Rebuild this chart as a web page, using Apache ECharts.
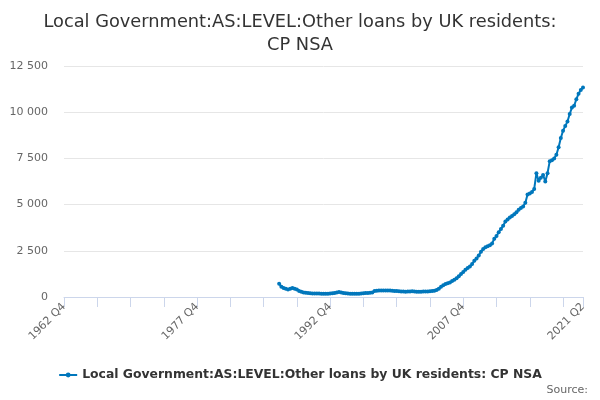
<!DOCTYPE html>
<html>
<head>
<meta charset="utf-8">
<script src="https://cdn.jsdelivr.net/npm/echarts@6/dist/echarts.min.js"></script>
<style>
html,body{margin:0;padding:0;background:#fff;}
#chart{width:600px;height:400px;}
</style>
</head>
<body>
<div id="chart"></div>
<script>
const titleText = "Local Government:AS:LEVEL:Other loans by UK residents:\nCP NSA";
const seriesName = "Local Government:AS:LEVEL:Other loans by UK residents: CP NSA";
const startYear = 1962, startQuarter = 4, quarterCount = 235;
const firstDataIndex = 97; // 1987 Q1
const yTicks = [0, 2500, 5000, 7500, 10000, 12500];
// values from 1987 Q1 to 2021 Q2
const values = [
  720, 560, 490, 440, 410, 450, 487, 450, 411, 330,
  290, 250, 233, 215, 205, 195, 190, 185, 185, 180,
  180, 178, 182, 190, 200, 215, 240, 265, 245, 220,
  200, 195, 180, 175, 172, 175, 180, 190, 200, 210,
  220, 235, 250, 325, 340, 345, 345, 350, 355, 350,
  345, 340, 330, 320, 305, 300, 295, 290, 292, 300,
  305, 300, 290, 285, 290, 295, 295, 300, 310, 320,
  340, 380, 450, 560, 640, 700, 750, 790, 860, 940,
  1010, 1120, 1240, 1350, 1480, 1570, 1650, 1780, 1960, 2080,
  2250, 2450, 2600, 2690, 2740, 2800, 2900, 3150, 3300, 3500,
  3680, 3860, 4080, 4200, 4300, 4380, 4480, 4580, 4720, 4820,
  4900, 5100, 5550, 5600, 5680, 5850, 6700, 6290, 6450, 6600,
  6250, 6700, 7350, 7400, 7500, 7700, 8100, 8600, 9000, 9250,
  9500, 9900, 10250, 10350, 10700, 11000, 11200, 11330
];

const categories = [];
for (let i = 0; i < quarterCount; i++) {
  const q0 = startQuarter - 1 + i;
  categories.push((startYear + Math.floor(q0 / 4)) + ' Q' + ((q0 % 4) + 1));
}
const seriesData = categories.map((c, i) => {
  const k = i - firstDataIndex;
  return (k >= 0 && k < values.length) ? values[k] : null;
});
const lastIdx = quarterCount - 1;

const chart = echarts.init(document.getElementById('chart'), null, {renderer: 'canvas'});
chart.setOption({
  animation: false,
  backgroundColor: '#ffffff',
  textStyle: {fontFamily: 'DejaVu Sans'},
  title: {
    text: titleText,
    left: 'center',
    top: 6,
    textStyle: {fontFamily: 'DejaVu Sans', fontSize: 17.8, fontWeight: 'normal', color: '#333333', lineHeight: 23}
  },
  legend: {
    data: [seriesName],
    left: 'center',
    top: 364,
    itemWidth: 18,
    itemHeight: 6,
    itemGap: 6,
    textStyle: {fontFamily: 'DejaVu Sans', fontSize: 12.4, fontWeight: 'bold', color: '#333333'}
  },
  graphic: [{
    type: 'text',
    right: 12,
    top: 385,
    style: {text: 'Source:', fontFamily: 'DejaVu Sans', fontSize: 11, fill: '#666666'}
  }],
  grid: {left: 64, right: 17, top: 66, bottom: 103, containLabel: false},
  xAxis: {
    type: 'category',
    data: categories,
    boundaryGap: false,
    axisLine: {lineStyle: {color: '#ccd6eb'}},
    axisTick: {
      length: 10,
      interval: (i) => i % 15 === 0 || i === lastIdx,
      lineStyle: {color: '#ccd6eb'}
    },
    axisLabel: {
      rotate: 45,
      interval: (i) => i % 60 === 0 || i === lastIdx,
      color: '#666666',
      fontSize: 11,
      fontFamily: 'DejaVu Sans',
      margin: 8
    },
    splitLine: {show: false}
  },
  yAxis: {
    type: 'value',
    min: yTicks[0],
    max: yTicks[yTicks.length - 1],
    interval: yTicks[1] - yTicks[0],
    axisLine: {show: false},
    axisTick: {show: false},
    axisLabel: {
      color: '#666666',
      fontSize: 11,
      fontFamily: 'DejaVu Sans',
      margin: 16,
      formatter: (v) => String(v).replace(/\B(?=(\d{3})+(?!\d))/g, ' ')
    },
    splitLine: {lineStyle: {color: '#e6e6e6'}}
  },
  series: [{
    name: seriesName,
    type: 'line',
    data: seriesData,
    symbol: 'circle',
    symbolSize: 4,
    showSymbol: true,
    showAllSymbol: true,
    color: '#0077bc',
    lineStyle: {width: 2, color: '#0077bc'},
    itemStyle: {color: '#0077bc'}
  }]
});
</script>
</body>
</html>
